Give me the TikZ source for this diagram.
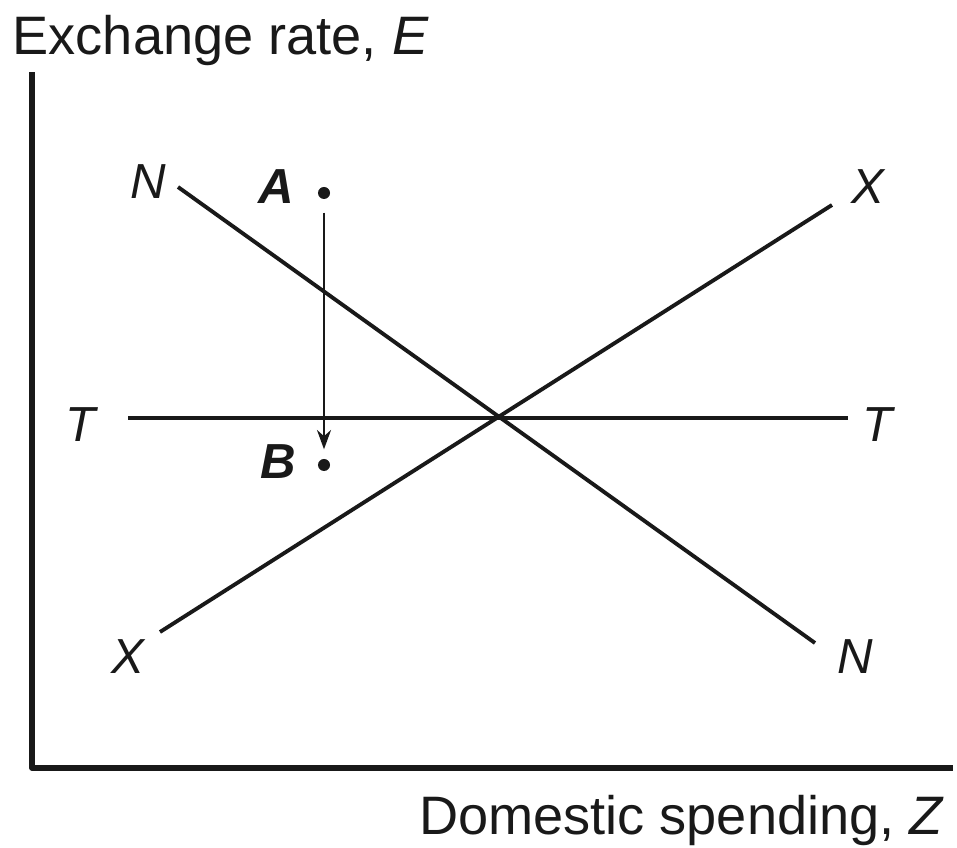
\documentclass[tikz,border=0pt]{standalone}
\usepackage{fontspec}
\setmainfont{Liberation Sans}
\usetikzlibrary{arrows.meta}
\tikzset{
	axis line/.style={line width=1.5pt, line cap=rect},
	curve line/.style={line width=1.1pt},
	curve label/.style={font=\fontsize{14}{16}\selectfont\itshape, inner sep=0pt},
	point label/.style={font=\fontsize{14}{16}\selectfont\bfseries\itshape, inner sep=0pt},
	dot/.style={circle, fill, inner sep=0pt, minimum size=0.12cm}
}
\begin{document}
	\begin{tikzpicture}[x=0.01cm, y=0.01cm, font=\fontsize{15.4}{18}\selectfont, line join=round, >={Stealth[length=5.5pt, width=4pt]}, color={black!90}]
		\useasboundingbox (0,0) rectangle (957,848);
		% axes
		\draw[axis line] (32,773) -- (32,80) -- (950,80);
		\node[anchor=base west, inner sep=0pt] (ylab) at (12,793) {Exchange rate, \textit{E}};
		\node[anchor=base east, inner sep=0pt] (xlab) at (945,13) {Domestic spending, \textit{Z}};
		% schedules
		\draw[curve line] (178,661) -- (815,205);
		\draw[curve line] (160,216) -- (832,643);
		\draw[curve line] (128,430) -- (848,430);
		\node[curve label] (NL) at (148,666) {N};
		\node[curve label] (NR) at (855,191) {N};
		\node[curve label] (XL) at (128,191) {X};
		\node[curve label] (XR) at (868,661) {X};
		\node[curve label] (TL) at (81,423) {T};
		\node[curve label] (TR) at (878,423) {T};
		% points A and B
		\node[dot] (ptA) at (324,655) {};
		\node[dot] (ptB) at (324,383) {};
		\node[point label] (labA) at (276,661) {A};
		\node[point label] (labB) at (278,386) {B};
		\draw[->, line width=0.6pt, shorten <=0.13cm, shorten >=0.09cm] (ptA) -- (ptB);
	\end{tikzpicture}
\end{document}
